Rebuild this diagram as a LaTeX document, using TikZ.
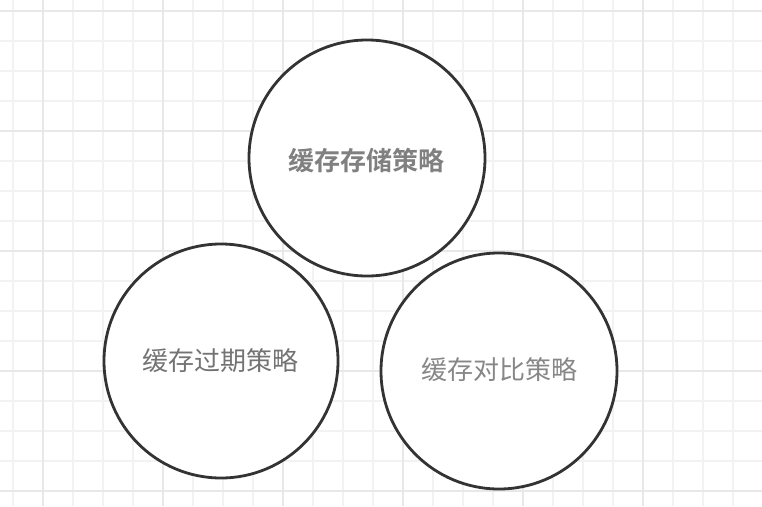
\documentclass[tikz,border=0pt]{standalone}
\usepackage{fontspec}
\newfontfamily\cjk{Noto Sans CJK SC}
\newfontfamily\cjkbold{Noto Sans CJK SC Bold}
\definecolor{gridminor}{HTML}{F2F2F2}
\definecolor{gridmajor}{HTML}{E8E8E8}
\definecolor{ringline}{HTML}{333333}
\begin{document}
\begin{tikzpicture}[x=1pt,y=-1pt,
  strategy/.style={circle,draw=ringline,line width=2.8pt,fill=white,
    minimum size=#1,inner sep=0pt},
  strategy/.default=236pt,
  caption/.style={font=\cjk\fontsize{26}{28}\selectfont}]
\useasboundingbox (0,0) rectangle (762,506);
\fill[white] (0,0) rectangle (762,506);
% background grid: minor every 30, major every 120
\foreach \i in {0,...,25}{
  \pgfmathsetmacro\gx{12.7+30*\i}
  \draw[gridminor,line width=1.6pt] (\gx,0) -- (\gx,506);
}
\foreach \j in {0,...,16}{
  \pgfmathsetmacro\gy{10.7+30*\j}
  \draw[gridminor,line width=1.6pt] (0,\gy) -- (762,\gy);
}
\foreach \gx in {42.7,162.7,282.7,402.7,522.7,642.7}
  \draw[gridmajor,line width=1.6pt] (\gx,0) -- (\gx,506);
\foreach \gy in {10.7,130.7,250.7,370.7,490.7}
  \draw[gridmajor,line width=1.6pt] (0,\gy) -- (762,\gy);
% three strategy circles
\node[strategy] (store) at (367,158) {};
\node[strategy=234pt] (expire) at (221,361) {};
\node[strategy] (compare) at (499,371) {};
\node[caption,text=black!50,font=\cjkbold\fontsize{26}{28}\selectfont] (storelbl) at (366.5,161) {缓存存储策略};
\node[caption,text=black!55] (expirelbl) at (220.5,361) {缓存过期策略};
\node[caption,text=black!47] (comparelbl) at (499,370) {缓存对比策略};
\end{tikzpicture}
\end{document}
